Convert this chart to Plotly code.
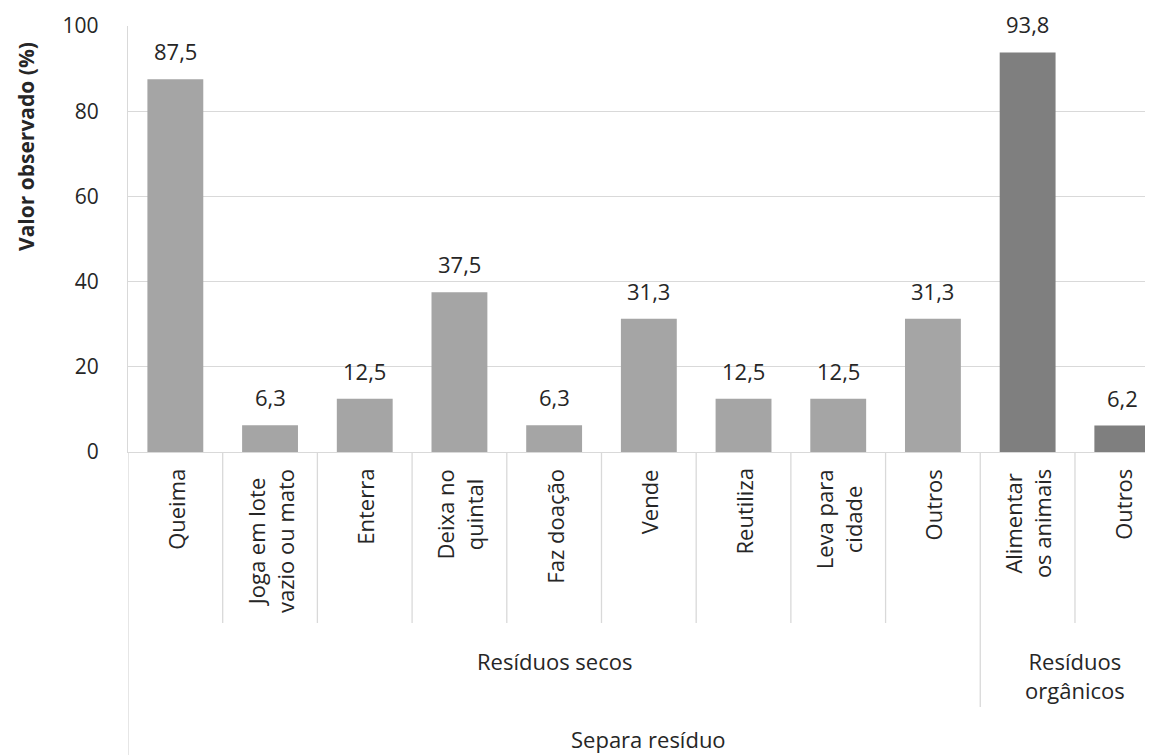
import plotly.graph_objects as go

# ---- data ----
groups = ["Resíduos secos"] * 9 + ["Resíduos orgânicos"] * 2
labels = ["Queima", "Joga em lote<br>vazio ou mato", "Enterra", "Deixa no<br>quintal",
          "Faz doação", "Vende", "Reutiliza", "Leva para<br>cidade", "Outros",
          "Alimentar<br>os animais", "Outros"]
values = [87.5, 6.3, 12.5, 37.5, 6.3, 31.3, 12.5, 12.5, 31.3, 93.8, 6.2]
value_text = ["87,5", "6,3", "12,5", "37,5", "6,3", "31,3", "12,5", "12,5", "31,3", "93,8", "6,2"]
group_names = ["Resíduos secos", "Resíduos<br>orgânicos"]
group_colors = {"Resíduos secos": "#A5A5A5", "Resíduos orgânicos": "#7F7F7F"}
x_title = "Separa resíduo"
y_title = "Valor observado (%)"
y_ticks = [0, 20, 40, 60, 80, 100]

FONT = "Open Sans"
TXT = "#262626"
GRID = "#D9D9D9"

# page has an 8px body margin; figure sized to fill the remaining window
OFF = 8
W, H = 1153 - OFF, 755 - OFF
ML, MT, MB, MR = 128 - OFF, 26 - OFF, 755 - 452, 0
PH = H - MT - MB

def py(px):
    """page pixel row -> paper y"""
    return (452 - px) / PH

keys = [f"{g}|{i}" for i, g in enumerate(groups)]
n = len(keys)

fig = go.Figure()
fig.add_trace(go.Bar(
    x=keys, y=values,
    marker=dict(color=[group_colors[g] for g in groups], line=dict(width=0)),
    width=0.59, hoverinfo="skip", showlegend=False,
))

annotations = []
# value labels
for k, v, t in zip(keys, values, value_text):
    annotations.append(dict(x=k, y=v, xref="x", yref="y", text=t, showarrow=False,
                            yanchor="bottom", yshift=11,
                            font=dict(family=FONT, size=22, color=TXT)))
# category labels
for k, lab in zip(keys, labels):
    annotations.append(dict(x=k, y=0, xref="x", yref="paper", text=lab, showarrow=False,
                            textangle=-90, yanchor="top", xanchor="center", align="center",
                            yshift=-15,
                            font=dict(family=FONT, size=22, color=TXT)))
# group labels
uniq = []
for g in groups:
    if g not in uniq:
        uniq.append(g)
for g, gname in zip(uniq, group_names):
    idx = [i for i, gg in enumerate(groups) if gg == g]
    xc = (idx[0] + idx[-1]) / 2
    annotations.append(dict(x=xc, y=py(644), xref="x", yref="paper", text=gname,
                            showarrow=False, yanchor="top", align="center",
                            font=dict(family=FONT, size=22, color=TXT)))
# axis titles
annotations.append(dict(x=(n - 1) / 2, y=py(722), xref="x", yref="paper", text=x_title,
                        showarrow=False, yanchor="top",
                        font=dict(family=FONT, size=22, color=TXT)))
annotations.append(dict(x=0, y=py(147), xref="paper", yref="paper", text=f"<b>{y_title}</b>",
                        showarrow=False, textangle=-90, xanchor="center", yanchor="middle",
                        xshift=-102,
                        font=dict(family=FONT, size=21, color=TXT)))

# divider lines
shapes = []
line = dict(color=GRID, width=1.3)
for i in range(n):
    b = i - 0.5
    if i == 0:
        y1 = py(760)
    elif groups[i] != groups[i - 1]:
        y1 = py(707)
    else:
        y1 = py(623)
    shapes.append(dict(type="line", xref="x", yref="paper", x0=b, x1=b, y0=0, y1=y1, line=line))

fig.update_layout(
    width=W, height=H,
    margin=dict(l=ML, r=MR, t=MT, b=MB),
    paper_bgcolor="white", plot_bgcolor="white",
    annotations=annotations, shapes=shapes,
    xaxis=dict(type="category", categoryorder="array", categoryarray=keys,
               range=[-0.5, n - 0.5 - 0.176], showticklabels=False, ticks="",
               showgrid=False, showline=True, linecolor=GRID, linewidth=1.3, zeroline=False),
    yaxis=dict(range=[0, 100], tickvals=y_ticks, showgrid=True, gridcolor=GRID, gridwidth=1.3,
               showline=True, linecolor=GRID, linewidth=1.3, zeroline=False, ticks="",
               ticklabelstandoff=24,
               tickfont=dict(family=FONT, size=21, color=TXT)),
)

fig.write_html("out.html")
